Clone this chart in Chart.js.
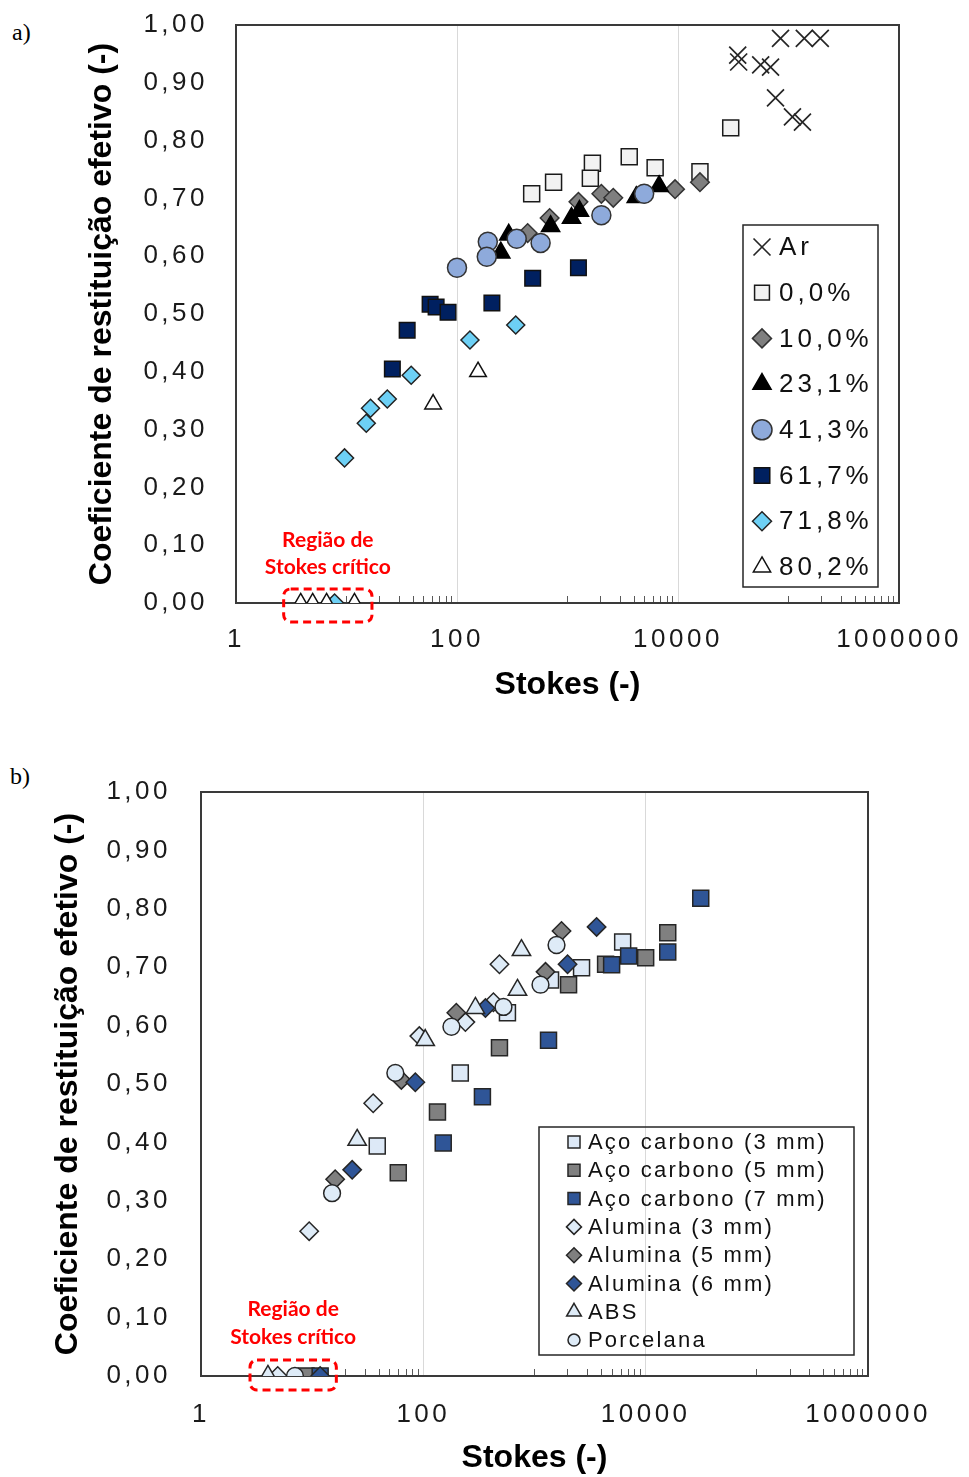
<!DOCTYPE html>
<html><head><meta charset="utf-8">
<script src="https://cdn.jsdelivr.net/npm/chart.js@4.4.1/dist/chart.umd.min.js"></script>
<style>
html,body{margin:0;padding:0;background:#fff;}
body{width:969px;height:1477px;position:relative;overflow:hidden;}
.lbl{position:absolute;font-family:"Liberation Serif","Times New Roman",serif;font-size:24px;color:#000;line-height:28px;}
#wa{position:absolute;left:0;top:0;width:969px;height:720px;}
#wb{position:absolute;left:0;top:740px;width:969px;height:737px;}
canvas{display:block;}
</style></head><body>
<div class="lbl" style="left:12px;top:18px">a)</div>
<div class="lbl" style="left:10px;top:762px">b)</div>
<div id="wa"><canvas id="ca" width="969" height="720"></canvas></div>
<div id="wb"><canvas id="cb" width="969" height="737"></canvas></div>
<script>
// ---------- axes / tick labels ----------
const xMajorTicks = [1, 100, 10000, 1000000];
const xTickLabels = ['1', '100', '10000', '1000000'];
const xMinorTicks = [10, 20, 30, 40, 50, 60, 70, 80, 90,
  1000, 2000, 3000, 4000, 5000, 6000, 7000, 8000, 9000,
  100000, 200000, 300000, 400000, 500000, 600000, 700000, 800000, 900000];
const yTickValues = [0, 0.1, 0.2, 0.3, 0.4, 0.5, 0.6, 0.7, 0.8, 0.9, 1.0];
const yTickLabels = ['0,00', '0,10', '0,20', '0,30', '0,40', '0,50', '0,60', '0,70', '0,80', '0,90', '1,00'];
const xTitle = 'Stokes (-)';
const yTitle = 'Coeficiente de restituição efetivo (-)';
const regionText = ['Região de', 'Stokes crítico'];
const regionRangeA = [2.7, 17];
const regionRangeB = [2.76, 16.5];

// ---------- chart a) ----------
const seriesA = ['Ar', '0,0%', '10,0%', '23,1%', '41,3%', '61,7%', '71,8%', '80,2%'];
const arX = [84700, 139000, 194000, 34700, 35400, 56000, 68800, 76300, 108600, 133700];
const arY = [0.977, 0.977, 0.977, 0.948, 0.936, 0.931, 0.927, 0.874, 0.841, 0.832];
const p00X = [474, 748, 1680, 1610, 3620, 6210, 15800, 30000];
const p00Y = [0.708, 0.728, 0.761, 0.735, 0.772, 0.753, 0.746, 0.822];
const p100X = [436, 689, 1256, 2025, 2595, 9400, 15800];
const p100Y = [0.640, 0.666, 0.694, 0.708, 0.701, 0.716, 0.728];
const p231X = [249, 294, 703, 1087, 1283, 4190, 6750];
const p231Y = [0.606, 0.637, 0.652, 0.666, 0.678, 0.702, 0.721];
const p413X = [100, 190, 186, 347, 571, 2025, 4940];
const p413Y = [0.580, 0.625, 0.599, 0.630, 0.623, 0.671, 0.708];
const p617X = [26, 35.4, 57.1, 64.7, 83, 207, 484, 1256];
const p617Y = [0.405, 0.472, 0.517, 0.512, 0.503, 0.519, 0.562, 0.580];
const p718X = [7.8, 9.6, 15.1, 16.5, 23.4, 38.5, 131, 340];
const p718Y = [0, 0.251, 0.311, 0.337, 0.353, 0.394, 0.455, 0.481];
const p802X = [3.85, 4.94, 6.6, 11.8, 60.8, 155];
const p802Y = [0, 0, 0, 0, 0.344, 0.400];

// ---------- chart b) ----------
const seriesB = ['Aço carbono (3 mm)', 'Aço carbono (5 mm)', 'Aço carbono (7 mm)', 'Alumina (3 mm)',
  'Alumina (5 mm)', 'Alumina (6 mm)', 'ABS', 'Porcelana'];
const ac3X = [38.5, 215, 571, 1394, 2650, 6210];
const ac3Y = [0.394, 0.519, 0.622, 0.678, 0.699, 0.743];
const ac5X = [8.8, 59.5, 134, 484, 2025, 4360, 10000, 15800];
const ac5Y = [0, 0.348, 0.452, 0.562, 0.670, 0.705, 0.716, 0.759];
const ac7X = [11.8, 151, 340, 1337, 4940, 7030, 15800, 31300];
const ac7Y = [0, 0.399, 0.478, 0.575, 0.704, 0.719, 0.726, 0.818];
const al3X = [4.9, 9.4, 35.4, 92, 239, 427, 484];
const al3Y = [0, 0.248, 0.467, 0.582, 0.606, 0.640, 0.705];
const al5X = [16.1, 63.4, 198, 1256, 1750];
const al5Y = [0.337, 0.507, 0.622, 0.692, 0.762];
const al6X = [11.8, 22.9, 84.7, 362, 1983, 3620];
const al6Y = [0, 0.353, 0.503, 0.630, 0.705, 0.769];
const absX = [4.0, 25.4, 104, 294, 703, 763];
const absY = [0, 0.404, 0.575, 0.630, 0.661, 0.729];
const porX = [7.0, 15.1, 56, 179, 526, 1132, 1578];
const porY = [0, 0.313, 0.519, 0.598, 0.632, 0.670, 0.738];

// ---------- rendering ----------
const FONT = "'Liberation Sans', Arial, sans-serif";
const xAllTicks = xMajorTicks.concat(xMinorTicks).sort((a, b) => a - b);
const hasLS = 'letterSpacing' in CanvasRenderingContext2D.prototype;

function makeDatasets(names, xsList, ysList, styles) {
  const n = names.length;
  return names.map((label, i) => ({
    label,
    data: xsList[i].map((x, k) => ({x, y: ysList[i][k]})),
    pointStyle: styles[i].s,
    pointRadius: styles[i].r,
    pointHoverRadius: styles[i].r,
    backgroundColor: styles[i].f,
    borderColor: styles[i].b || '#262626',
    borderWidth: styles[i].w || 1.5,
    legendRadius: styles[i].lr,
    showLine: false,
    order: n - i
  }));
}

function drawMarker(ctx, style, x, y, r, fill, stroke, lw) {
  ctx.save();
  ctx.fillStyle = fill; ctx.strokeStyle = stroke; ctx.lineWidth = lw;
  ctx.beginPath();
  if (style === 'crossRot') {
    const d = r * Math.SQRT1_2;
    ctx.moveTo(x - d, y - d); ctx.lineTo(x + d, y + d);
    ctx.moveTo(x - d, y + d); ctx.lineTo(x + d, y - d);
    ctx.stroke(); ctx.restore(); return;
  }
  if (style === 'rect') { const s = r * Math.SQRT1_2; ctx.rect(x - s, y - s, 2 * s, 2 * s); }
  else if (style === 'rectRot') { ctx.moveTo(x - r, y); ctx.lineTo(x, y - r); ctx.lineTo(x + r, y); ctx.lineTo(x, y + r); ctx.closePath(); }
  else if (style === 'triangle') {
    let a = 0;
    ctx.moveTo(x + Math.sin(a) * r, y - Math.cos(a) * r); a += 2 * Math.PI / 3;
    ctx.lineTo(x + Math.sin(a) * r, y - Math.cos(a) * r); a += 2 * Math.PI / 3;
    ctx.lineTo(x + Math.sin(a) * r, y - Math.cos(a) * r); ctx.closePath();
  }
  else { ctx.arc(x, y, r, 0, 2 * Math.PI); }
  ctx.fill(); ctx.stroke(); ctx.restore();
}

const deco = {
  id: 'deco',
  beforeDatasetsDraw(chart) {
    const {ctx, chartArea: a} = chart;
    ctx.save();
    ctx.strokeStyle = '#3a3a3a'; ctx.lineWidth = 2;
    ctx.strokeRect(a.left, a.top, a.right - a.left, a.bottom - a.top);
    ctx.restore();
  },
  afterDatasetsDraw(chart, args, o) {
    const {ctx, scales: {x, y}} = chart;
    const x0 = x.getPixelForValue(o.region[0]);
    const x1 = x.getPixelForValue(o.region[1]);
    const yc = y.getPixelForValue(0);
    ctx.save();
    if (hasLS) ctx.letterSpacing = '0px';
    ctx.strokeStyle = '#ff0000'; ctx.lineWidth = 3; ctx.setLineDash([8, 5]);
    ctx.beginPath();
    if (ctx.roundRect) ctx.roundRect(x0, yc - o.boxUp, x1 - x0, o.boxUp + o.boxDown, 7);
    else ctx.rect(x0, yc - o.boxUp, x1 - x0, o.boxUp + o.boxDown);
    ctx.stroke();
    ctx.setLineDash([]);
    ctx.fillStyle = '#ff0000'; ctx.font = "bold 21px Lato, 'Liberation Sans', sans-serif";
    ctx.textAlign = 'center'; ctx.textBaseline = 'middle';
    const cx = (x0 + x1) / 2;
    ctx.fillText(o.text[0], cx, yc - o.t1);
    ctx.fillText(o.text[1], cx, yc - o.t2);
    ctx.restore();
    if (hasLS) ctx.letterSpacing = o.tickSpacing;
  },
  afterDraw(chart, args, o) {
    const {ctx, chartArea: a} = chart;
    if (hasLS) ctx.letterSpacing = '0px';
    const L = o.legend;
    const bx = a.right + L.dx, by = a.top + L.dy;
    ctx.save();
    ctx.strokeStyle = '#262626'; ctx.lineWidth = 1.5;
    ctx.strokeRect(bx, by, L.w, L.h);
    if (hasLS) ctx.letterSpacing = L.spacing;
    ctx.font = L.size + 'px ' + FONT;
    ctx.fillStyle = '#111'; ctx.textAlign = 'left'; ctx.textBaseline = 'middle';
    chart.data.datasets.forEach((d, i) => {
      const cy = by + L.y0 + i * L.step;
      drawMarker(ctx, d.pointStyle, bx + L.mx, cy, d.legendRadius, d.backgroundColor, d.borderColor, d.borderWidth);
      ctx.fillText(d.label, bx + L.tx, cy + 1);
    });
    ctx.restore();
    if (hasLS) ctx.letterSpacing = '0px';
  }
};

function makeOptions(p) {
  return {
    responsive: false, animation: false, events: [],
    layout: {padding: {left: 0, top: p.top, right: p.right, bottom: 0}},
    plugins: {legend: {display: false}, tooltip: {enabled: false}, deco: p.deco},
    scales: {
      x: {
        type: 'logarithmic', min: 1, max: 1000000, position: 'bottom',
        afterFit: s => { s.height = p.xh; s.paddingLeft = 0; s.paddingRight = 0; },
        afterBuildTicks: s => { s.ticks = xAllTicks.map(v => ({value: v})); },
        ticks: {
          autoSkip: false, maxRotation: 0, minRotation: 0, padding: p.xpad, z: 1,
          color: '#1a1a1a', font: {family: FONT, size: 26},
          callback: v => { const k = xMajorTicks.indexOf(v); return k >= 0 ? xTickLabels[k] : ''; }
        },
        grid: {
          color: c => (c.tick && xMajorTicks.includes(c.tick.value)) ? '#d9d9d9' : 'rgba(0,0,0,0)',
          lineWidth: 1, drawTicks: true, tickLength: -7, tickWidth: 1,
          tickColor: c => (c.tick && xMajorTicks.includes(c.tick.value)) ? 'rgba(0,0,0,0)' : '#595959'
        },
        border: {display: false},
        title: {display: true, text: xTitle, color: '#000', font: {family: FONT, size: 32, weight: 'bold'}, padding: {top: 0, bottom: p.xtp}}
      },
      y: {
        type: 'linear', min: 0, max: 1, position: 'left',
        afterFit: s => { s.width = p.yw; s.paddingTop = 0; s.paddingBottom = 0; },
        afterBuildTicks: s => { s.ticks = yTickValues.map(v => ({value: v})); },
        ticks: {
          padding: p.ypad, z: 1, color: '#1a1a1a', font: {family: FONT, size: 26},
          callback: v => { const k = yTickValues.indexOf(v); return k >= 0 ? yTickLabels[k] : ''; }
        },
        grid: {display: false, drawTicks: false},
        border: {display: false},
        title: {display: true, text: yTitle, color: '#000', font: {family: FONT, size: 32, weight: 'bold'}, padding: {top: p.ytp, bottom: 0}}
      }
    }
  };
}

const stylesA = [
  {s: 'crossRot', r: 12, f: 'rgba(0,0,0,0)', b: '#262626', w: 1.7, lr: 12},
  {s: 'rect', r: 11.3, f: '#f2f2f2', b: '#1a1a1a', lr: 10.5},
  {s: 'rectRot', r: 9.3, f: '#7f7f7f', b: '#333333', lr: 9.5},
  {s: 'triangle', r: 10.5, f: '#000000', b: '#000000', lr: 10.5},
  {s: 'circle', r: 9.5, f: '#8eaadb', b: '#333333', lr: 10},
  {s: 'rect', r: 11, f: '#002060', b: '#111111', lr: 11},
  {s: 'rectRot', r: 9, f: '#6dd0f5', b: '#222222', lr: 9.5},
  {s: 'triangle', r: 9.6, f: '#ffffff', b: '#111111', lr: 10}
];
const stylesB = [
  {s: 'rect', r: 11.3, f: '#dde9f7', lr: 8.5},
  {s: 'rect', r: 11.3, f: '#808080', lr: 8.5},
  {s: 'rect', r: 11.3, f: '#2f5597', lr: 8.5},
  {s: 'rectRot', r: 9.2, f: '#deebf7', lr: 7.5},
  {s: 'rectRot', r: 9.2, f: '#7f7f7f', lr: 7.5},
  {s: 'rectRot', r: 9.2, f: '#2f5597', lr: 7.5},
  {s: 'triangle', r: 10.6, f: '#deebf7', lr: 8.5},
  {s: 'circle', r: 8.4, f: '#deebf7', lr: 6}
];

new Chart(document.getElementById('ca'), {
  type: 'scatter',
  data: {datasets: makeDatasets(seriesA,
    [arX, p00X, p100X, p231X, p413X, p617X, p718X, p802X],
    [arY, p00Y, p100Y, p231Y, p413Y, p617Y, p718Y, p802Y], stylesA)},
  options: makeOptions({
    top: 25, right: 70, yw: 236, xh: 117, xpad: 28, ypad: 28, xtp: 16, ytp: 83,
    deco: {region: regionRangeA, text: regionText, boxUp: 14, boxDown: 19, t1: 63, t2: 36, tickSpacing: '3.5px',
      legend: {dx: -156, dy: 200, w: 135, h: 362, mx: 19, tx: 36, y0: 22, step: 45.7, size: 26, spacing: '4px'}}
  }),
  plugins: [deco]
});

new Chart(document.getElementById('cb'), {
  type: 'scatter',
  data: {datasets: makeDatasets(seriesB,
    [ac3X, ac5X, ac7X, al3X, al5X, al6X, absX, porX],
    [ac3Y, ac5Y, ac7Y, al3Y, al5Y, al6Y, absY, porY], stylesB)},
  options: makeOptions({
    top: 52, right: 101, yw: 201, xh: 101, xpad: 30, ypad: 30, xtp: 0, ytp: 49,
    deco: {region: regionRangeB, text: regionText, boxUp: 16, boxDown: 14, t1: 67, t2: 39, tickSpacing: '3.5px',
      legend: {dx: -329, dy: 335, w: 315, h: 228, mx: 35, tx: 49, y0: 15, step: 28.3, size: 22, spacing: '2.2px'}}
  }),
  plugins: [deco]
});
</script>
</body></html>
